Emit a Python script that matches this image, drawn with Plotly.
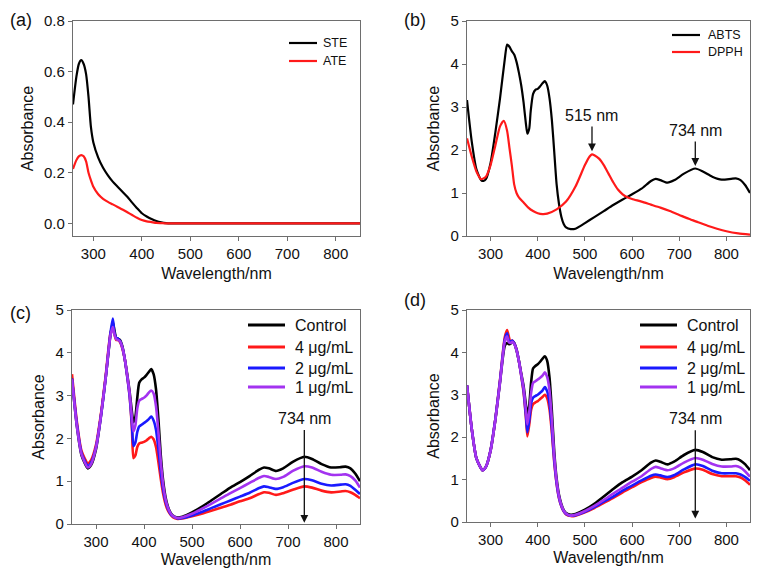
import plotly.graph_objects as go

# ---------------- data ----------------
wl_a = [258, 265, 270, 275, 280, 285, 290, 295, 300, 310, 320, 330, 340, 350, 360, 370, 380,
        390, 400, 410, 420, 430, 440, 450, 460, 500, 600, 700, 800, 850]
ste = [0.47, 0.58, 0.63, 0.645, 0.63, 0.59, 0.50, 0.38, 0.32, 0.26, 0.22, 0.19, 0.165, 0.145,
       0.125, 0.105, 0.082, 0.06, 0.04, 0.027, 0.017, 0.009, 0.004, 0.001, 0, 0, 0, 0, 0, 0]
ate = [0.215, 0.25, 0.265, 0.27, 0.265, 0.245, 0.2, 0.17, 0.145, 0.115, 0.097, 0.085, 0.075,
       0.065, 0.055, 0.044, 0.033, 0.022, 0.013, 0.008, 0.005, 0.002, 0.001, 0, 0, 0, 0, 0, 0, 0]

wl_abts = [250, 260, 270, 280, 285, 290, 300, 310, 320, 330, 335, 340, 345, 350, 355, 360, 365,
           370, 375, 378, 382, 385, 390, 395, 400, 405, 410, 415, 420, 425, 430, 435, 440, 445,
           450, 455, 460, 470, 480, 490, 500, 520, 540, 560, 580, 600, 620, 640, 650, 660, 675,
           690, 710, 734, 750, 770, 790, 810, 820, 830, 840, 850]
abts = [3.16, 2.2, 1.55, 1.3, 1.28, 1.32, 1.7, 2.4, 3.2, 4.1, 4.45, 4.4, 4.3, 4.22, 4.05, 3.8,
        3.5, 3.1, 2.6, 2.38, 2.5, 2.9, 3.3, 3.4, 3.42, 3.48, 3.55, 3.6, 3.5, 3.2, 2.69, 1.95,
        1.2, 0.75, 0.45, 0.28, 0.2, 0.16, 0.17, 0.23, 0.3, 0.44, 0.58, 0.72, 0.85, 0.97, 1.1,
        1.28, 1.33, 1.3, 1.24, 1.3, 1.45, 1.57, 1.5, 1.38, 1.31, 1.33, 1.34, 1.3, 1.18, 1.0]

wl_dpph = [250, 260, 270, 280, 290, 300, 310, 320, 328, 335, 340, 345, 350, 355, 360, 370, 380,
           390, 400, 410, 420, 440, 460, 480, 500, 510, 515, 520, 530, 540, 550, 560, 570, 580,
           590, 600, 620, 640, 660, 680, 700, 720, 740, 760, 780, 800, 825, 850]
dpph = [2.27, 1.85, 1.5, 1.32, 1.38, 1.65, 2.1, 2.55, 2.68, 2.45, 2.05, 1.65, 1.2, 1.0, 0.9, 0.78,
        0.66, 0.58, 0.53, 0.51, 0.52, 0.62, 0.8, 1.15, 1.65, 1.85, 1.9, 1.88, 1.8, 1.65, 1.45,
        1.25, 1.08, 0.97, 0.9, 0.86, 0.8, 0.73, 0.66, 0.58, 0.49, 0.4, 0.32, 0.24, 0.17, 0.11,
        0.06, 0.03]

wl_cd = [250, 260, 270, 283, 290, 300, 310, 320, 330, 335, 338, 342, 346, 350, 355, 360, 365,
         370, 375, 378, 382, 386, 390, 395, 400, 405, 410, 415, 420, 425, 430, 435, 440, 445,
         450, 455, 460, 470, 480, 500, 520, 540, 560, 580, 600, 620, 640, 650, 660, 675, 690,
         710, 734, 750, 770, 790, 810, 820, 830, 840, 850]

c_control = [3.38, 2.3, 1.6, 1.3, 1.38, 1.75, 2.5, 3.4, 4.4, 4.72, 4.55, 4.35, 4.33, 4.3, 4.15,
             3.85, 3.5, 3.1, 2.6, 2.38, 2.5, 2.95, 3.3, 3.38, 3.42, 3.48, 3.55, 3.62, 3.5, 3.15,
             2.45, 1.6, 1.0, 0.62, 0.4, 0.27, 0.2, 0.15, 0.17, 0.27, 0.4, 0.55, 0.7, 0.85,
             0.98, 1.12, 1.27, 1.32, 1.3, 1.24, 1.3, 1.45, 1.57, 1.52, 1.4, 1.32, 1.33, 1.34,
             1.3, 1.18, 1.0]
c_4 = [3.5, 2.4, 1.7, 1.42, 1.5, 1.85, 2.55, 3.45, 4.45, 4.6, 4.45, 4.3, 4.3, 4.25, 4.1, 3.85,
       3.45, 3.0, 2.2, 1.54, 1.6, 1.8, 1.88, 1.9, 1.92, 1.95, 2.0, 2.04, 1.98, 1.8, 1.45, 1.05,
       0.7, 0.46, 0.31, 0.22, 0.16, 0.12, 0.13, 0.18, 0.24, 0.31, 0.38, 0.45, 0.53, 0.6, 0.7,
       0.74, 0.73, 0.68, 0.72, 0.8, 0.88, 0.85, 0.78, 0.74, 0.76, 0.77, 0.74, 0.68, 0.6]
c_2 = [3.4, 2.35, 1.65, 1.36, 1.44, 1.8, 2.5, 3.4, 4.45, 4.8, 4.5, 4.35, 4.33, 4.28, 4.12, 3.85,
       3.45, 3.0, 2.3, 1.82, 1.9, 2.15, 2.28, 2.32, 2.36, 2.4, 2.45, 2.51, 2.42, 2.2, 1.75, 1.22,
       0.8, 0.52, 0.35, 0.24, 0.18, 0.13, 0.14, 0.2, 0.28, 0.37, 0.46, 0.55, 0.64, 0.73, 0.84,
       0.88, 0.86, 0.82, 0.86, 0.96, 1.05, 1.02, 0.94, 0.9, 0.92, 0.93, 0.89, 0.8, 0.7]
c_1 = [3.38, 2.3, 1.62, 1.32, 1.4, 1.78, 2.5, 3.4, 4.4, 4.6, 4.45, 4.32, 4.3, 4.27, 4.12, 3.85,
       3.48, 3.05, 2.45, 2.16, 2.3, 2.7, 2.88, 2.92, 2.95, 3.0, 3.07, 3.12, 3.05, 2.75, 2.15, 1.45,
       0.92, 0.58, 0.38, 0.26, 0.19, 0.14, 0.16, 0.24, 0.35, 0.47, 0.6, 0.72, 0.84, 0.96, 1.08,
       1.12, 1.1, 1.05, 1.1, 1.24, 1.35, 1.32, 1.22, 1.15, 1.15, 1.16, 1.12, 1.02, 0.85]

d_control = [3.22, 2.2, 1.5, 1.22, 1.3, 1.68, 2.4, 3.3, 4.15, 4.22, 4.2, 4.2, 4.26, 4.22, 4.05,
             3.8, 3.5, 3.2, 2.75, 2.52, 2.75, 3.3, 3.62, 3.68, 3.72, 3.78, 3.85, 3.91, 3.8, 3.4,
             2.6, 1.65, 1.02, 0.64, 0.42, 0.28, 0.21, 0.17, 0.19, 0.29, 0.43, 0.6, 0.78, 0.94,
             1.07, 1.22, 1.4, 1.45, 1.42, 1.36, 1.43, 1.58, 1.7, 1.65, 1.53, 1.47, 1.48, 1.49,
             1.45, 1.36, 1.22]
d_4 = [3.22, 2.2, 1.5, 1.22, 1.3, 1.7, 2.42, 3.35, 4.35, 4.53, 4.4, 4.25, 4.28, 4.22, 4.08, 3.8,
       3.45, 3.05, 2.45, 2.02, 2.3, 2.65, 2.78, 2.82, 2.85, 2.9, 2.95, 3.0, 2.92, 2.65, 2.1, 1.4,
       0.9, 0.56, 0.37, 0.25, 0.18, 0.14, 0.15, 0.23, 0.33, 0.45, 0.57, 0.7, 0.82, 0.94, 1.04,
       1.07, 1.05, 1.01, 1.06, 1.17, 1.26, 1.23, 1.13, 1.08, 1.08, 1.08, 1.05, 0.98, 0.88]
d_2 = [3.22, 2.2, 1.5, 1.22, 1.3, 1.7, 2.42, 3.33, 4.3, 4.45, 4.3, 4.25, 4.28, 4.22, 4.07, 3.8,
       3.46, 3.1, 2.5, 2.12, 2.4, 2.8, 2.93, 2.97, 3.0, 3.05, 3.1, 3.18, 3.08, 2.8, 2.2, 1.45,
       0.92, 0.58, 0.38, 0.26, 0.19, 0.15, 0.16, 0.24, 0.35, 0.48, 0.6, 0.74, 0.86, 0.98, 1.09,
       1.12, 1.1, 1.06, 1.11, 1.24, 1.36, 1.32, 1.21, 1.15, 1.15, 1.15, 1.12, 1.06, 0.97]
d_1 = [3.22, 2.2, 1.5, 1.22, 1.3, 1.68, 2.4, 3.3, 4.25, 4.38, 4.25, 4.22, 4.25, 4.2, 4.05, 3.8,
       3.48, 3.15, 2.62, 2.3, 2.6, 3.05, 3.28, 3.32, 3.36, 3.4, 3.45, 3.53, 3.42, 3.1, 2.4, 1.55,
       0.97, 0.61, 0.4, 0.27, 0.2, 0.15, 0.17, 0.26, 0.38, 0.52, 0.67, 0.81, 0.95, 1.08,
       1.25, 1.3, 1.27, 1.22, 1.27, 1.4, 1.51, 1.47, 1.37, 1.31, 1.31, 1.32, 1.28, 1.19, 1.07]

x_ticks = [300, 400, 500, 600, 700, 800]
conc_names = ["Control", "4 μg/mL", "2 μg/mL", "1 μg/mL"]
colors = ["#000000", "#ff1a1a", "#1a1aff", "#a333f0"]

# ---------------- geometry (screen px; the page body adds an 8px margin on every side) ----
OFF = 8
W, H = 759 - 2 * OFF, 576 - 2 * OFF   # keeps the page from overflowing the window
FONT = "Liberation Sans, Arial, sans-serif"


def fx(p):
    return (p - OFF) / W


def fy(p):
    return 1 - (p - OFF) / H


fig = go.Figure()


def add(x, y, name, color, xa, ya, width):
    fig.add_trace(go.Scatter(x=x, y=y, name=name, mode="lines", showlegend=False,
                             line=dict(color=color, width=width, shape="spline", smoothing=0.6),
                             xaxis=xa, yaxis=ya))


add(wl_a, ste, "STE", "#000000", "x", "y", 2.2)
add(wl_a, ate, "ATE", "#ff1a1a", "x", "y", 2.2)
add(wl_abts, abts, "ABTS", "#000000", "x2", "y2", 2.2)
add(wl_dpph, dpph, "DPPH", "#ff1a1a", "x2", "y2", 2.2)
for name, col, yv in zip(conc_names, colors, [c_control, c_4, c_2, c_1]):
    add(wl_cd, yv, name, col, "x3", "y3", 2.6)
for name, col, yv in zip(conc_names, colors, [d_control, d_4, d_2, d_1]):
    add(wl_cd, yv, name, col, "x4", "y4", 2.6)

axis_common = dict(showline=True, mirror=True, linecolor="#6e6e6e", linewidth=1.3,
                   ticks="outside", ticklen=4, tickcolor="#6e6e6e", tickwidth=1.2,
                   showgrid=False, zeroline=False, automargin=False,
                   tickfont=dict(family=FONT, size=15, color="#111"),
                   title_font=dict(family=FONT, size=16, color="#111"))

doms = {
    "a": ([fx(73), fx(360)], [fy(236), fy(21)]),
    "b": ([fx(467), fx(750)], [fy(236), fy(21)]),
    "c": ([fx(72), fx(360)], [fy(524), fy(310)]),
    "d": ([fx(467), fx(750)], [fy(522), fy(310)]),
}

fig.update_layout(
    width=W, height=H, margin=dict(l=0, r=0, t=0, b=0, autoexpand=False),
    plot_bgcolor="white", paper_bgcolor="white", showlegend=False,
    font=dict(family=FONT, color="#111"),
    xaxis=dict(domain=doms["a"][0], range=[258, 850], tickvals=x_ticks, anchor="y",
               title=dict(text="Wavelength/nm", standoff=6), **axis_common),
    yaxis=dict(domain=doms["a"][1], range=[-0.05, 0.8], dtick=0.2, tickformat=".1f", anchor="x",
               title=dict(text="Absorbance", standoff=6), **axis_common),
    xaxis2=dict(domain=doms["b"][0], range=[250, 850], tickvals=x_ticks, anchor="y2",
                title=dict(text="Wavelength/nm", standoff=6), **axis_common),
    yaxis2=dict(domain=doms["b"][1], range=[0, 5], dtick=1, anchor="x2",
                title=dict(text="Absorbance", standoff=6), **axis_common),
    xaxis3=dict(domain=doms["c"][0], range=[250, 850], tickvals=x_ticks, anchor="y3",
                title=dict(text="Wavelength/nm", standoff=4), **axis_common),
    yaxis3=dict(domain=doms["c"][1], range=[0, 5], dtick=1, anchor="x3",
                title=dict(text="Absorbance", standoff=6), **axis_common),
    xaxis4=dict(domain=doms["d"][0], range=[250, 850], tickvals=x_ticks, anchor="y4",
                title=dict(text="Wavelength/nm", standoff=4), **axis_common),
    yaxis4=dict(domain=doms["d"][1], range=[0, 5], dtick=1, anchor="x4",
                title=dict(text="Absorbance", standoff=6), **axis_common),
)

ann = []
shapes = []

# panel labels
for lab, xp, yp in [("(a)", 8, 20), ("(b)", 402, 20), ("(c)", 8, 313), ("(d)", 402, 300)]:
    ann.append(dict(text=lab, x=fx(xp), y=fy(yp), xref="paper", yref="paper",
                    xanchor="left", yanchor="middle", showarrow=False,
                    font=dict(family=FONT, size=18, color="#111")))


# legends (line sample + label)
def legend(names, cols, x0, x1, xt, rows, size, lw):
    for n, c, r in zip(names, cols, rows):
        shapes.append(dict(type="line", xref="paper", yref="paper", x0=fx(x0), x1=fx(x1),
                           y0=fy(r), y1=fy(r), line=dict(color=c, width=lw)))
        ann.append(dict(text=n, x=fx(xt), y=fy(r), xref="paper", yref="paper",
                        xanchor="left", yanchor="middle", showarrow=False,
                        font=dict(family=FONT, size=size, color="#111")))


legend(["STE", "ATE"], ["#000000", "#ff1a1a"], 289, 317, 321, [43, 61], 12.5, 2.2)
legend(["ABTS", "DPPH"], ["#000000", "#ff1a1a"], 672, 700, 706, [35, 52], 12.5, 2.2)
legend(conc_names, colors, 248, 285, 293, [325, 347, 368, 387], 16, 3)
legend(conc_names, colors, 640, 677, 685, [325, 347, 368, 387], 16, 3)


def arrow(xr, yr, x, y_tip, y_tail, y_text, text):
    ann.append(dict(x=x, y=y_tip, ax=x, ay=y_tail, xref=xr, yref=yr, axref=xr, ayref=yr,
                    showarrow=True, arrowhead=2, arrowsize=1.2, arrowwidth=1.3,
                    arrowcolor="#111", text=""))
    ann.append(dict(x=x, y=y_text, xref=xr, yref=yr, text=text, showarrow=False,
                    yanchor="middle", font=dict(family=FONT, size=16, color="#111")))


arrow("x2", "y2", 515, 1.97, 2.58, 2.8, "515 nm")
arrow("x2", "y2", 734, 1.63, 2.23, 2.45, "734 nm")
arrow("x3", "y3", 734, 0.03, 2.23, 2.46, "734 nm")
arrow("x4", "y4", 734, 0.08, 2.2, 2.44, "734 nm")

fig.update_layout(annotations=ann, shapes=shapes)

fig.write_html("out.html")
